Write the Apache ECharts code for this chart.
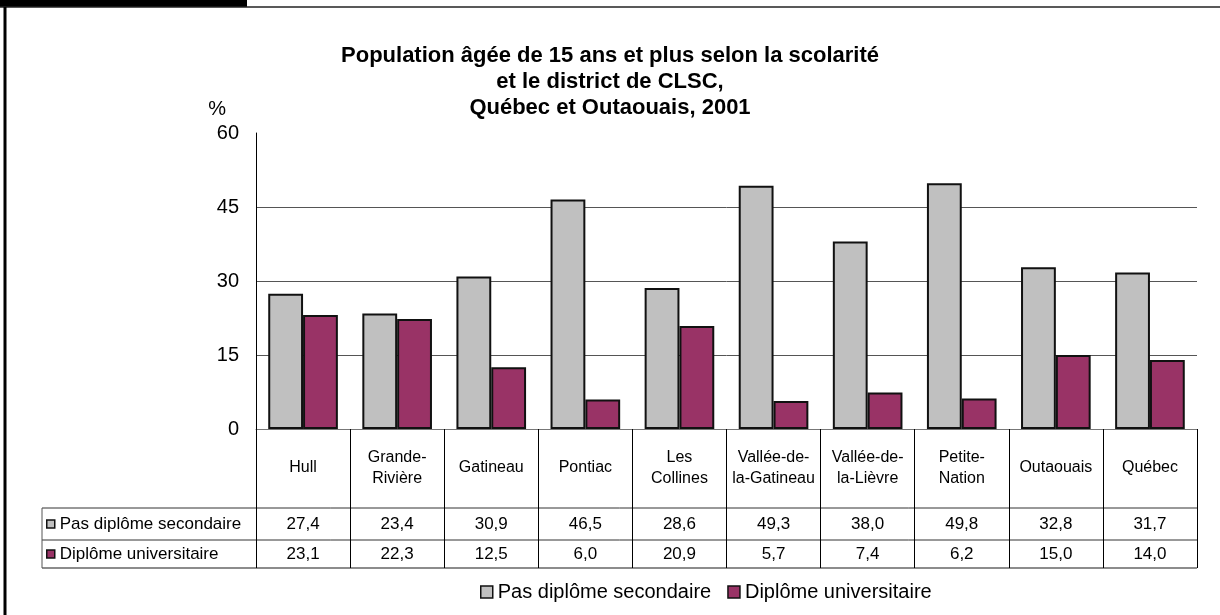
<!DOCTYPE html>
<html>
<head>
<meta charset="utf-8">
<script src="https://cdn.jsdelivr.net/npm/echarts@6/dist/echarts.min.js"></script>
<style>
  html, body { margin: 0; padding: 0; background: #fff; }
  #chart { width: 1220px; height: 615px; }
</style>
</head>
<body>
<div id="chart"></div>
<script>
// données
var categories = ['Hull', 'Grande-\nRivière', 'Gatineau', 'Pontiac', 'Les\nCollines',
                  'Vallée-de-\nla-Gatineau', 'Vallée-de-\nla-Lièvre', 'Petite-\nNation', 'Outaouais', 'Québec'];
var seriesNames = ['Pas diplôme secondaire', 'Diplôme universitaire'];
var pasDiplome = [27.4, 23.4, 30.9, 46.5, 28.6, 49.3, 38.0, 49.8, 32.8, 31.7];
var diplomeUniv = [23.1, 22.3, 12.5, 6.0, 20.9, 5.7, 7.4, 6.2, 15.0, 14.0];
var yTicks = [0, 15, 30, 45, 60];

var fmt = function (v) { return v.toFixed(1).replace('.', ','); };

var myChart = echarts.init(document.getElementById('chart'));

var font = 'Liberation Sans, Arial, sans-serif';
// lignes du tableau
var tLeft = 42, tRight = 1197;

option = {
    animation: false,
    backgroundColor: '#fff',
    textStyle: { fontFamily: font, color: '#000' },
    title: {
        text: 'Population âgée de 15 ans et plus selon la scolarité\net le district de CLSC,\nQuébec et Outaouais, 2001',
        left: 'center',
        top: 38,
        textStyle: { fontSize: 22, fontWeight: 'bold', lineHeight: 26, color: '#000', fontFamily: font }
    },
    legend: [
        {
            selectedMode: false,
            left: 480,
            top: 582,
            padding: 0,
            itemWidth: 12,
            itemHeight: 12,
            itemGap: 16,
            icon: 'rect',
            itemStyle: { borderWidth: 1.5 },
            textStyle: { fontSize: 20, color: '#000', fontFamily: font },
            data: seriesNames
        },
        {
            selectedMode: false,
            orient: 'vertical',
            left: 46,
            top: 514,
            padding: 0,
            itemWidth: 8,
            itemHeight: 8,
            itemGap: 10,
            icon: 'rect',
            itemStyle: { borderWidth: 1.5 },
            textStyle: { fontSize: 17, lineHeight: 20, color: '#000', fontFamily: font },
            data: seriesNames
        }
    ],
    grid: { left: 256, right: 23, top: 133, bottom: 186 },
    xAxis: [
        {
            type: 'category',
            data: categories,
            axisLine: { lineStyle: { color: '#777', width: 1 } },
            axisTick: { show: true, length: 139, lineStyle: { color: '#000' } },
            axisLabel: {
                interval: 0, margin: 39, verticalAlign: 'middle', fontSize: 16,
                lineHeight: 21, color: '#000', fontFamily: font, hideOverlap: false
            }
        },
        {
            type: 'category',
            data: pasDiplome.map(fmt),
            position: 'bottom',
            offset: 79,
            axisLine: { show: false },
            axisTick: { show: false },
            axisLabel: { interval: 0, margin: 16, verticalAlign: 'middle', fontSize: 17, color: '#000', fontFamily: font }
        },
        {
            type: 'category',
            data: diplomeUniv.map(fmt),
            position: 'bottom',
            offset: 111,
            axisLine: { show: false },
            axisTick: { show: false },
            axisLabel: { interval: 0, margin: 14, verticalAlign: 'middle', fontSize: 17, color: '#000', fontFamily: font }
        }
    ],
    yAxis: [
        {
            type: 'value',
            min: yTicks[0],
            max: yTicks[yTicks.length - 1],
            interval: 15,
            name: '%',
            nameLocation: 'end',
            nameGap: 14,
            nameTextStyle: { fontSize: 20, color: '#000', align: 'right', padding: [0, 30, 0, 0], fontFamily: font },
            axisLine: { show: true, lineStyle: { color: '#000', width: 1 } },
            axisTick: { show: false },
            axisLabel: { fontSize: 20, margin: 17, color: '#000', fontFamily: font },
            splitLine: { show: true, showMaxLine: false, lineStyle: { color: '#555', width: 1 } }
        }
    ],
    series: [
        {
            name: seriesNames[0],
            type: 'bar',
            barGap: '0%',
            barCategoryGap: '26%',
            itemStyle: { color: '#C0C0C0', borderColor: '#111', borderWidth: 2 },
            data: pasDiplome
        },
        {
            name: seriesNames[1],
            type: 'bar',
            itemStyle: { color: '#993366', borderColor: '#111', borderWidth: 2 },
            data: diplomeUniv
        }
    ],
    graphic: [
        // cadre
        { type: 'rect', shape: { x: 0, y: 0, width: 247, height: 7 }, style: { fill: '#000' } },
        { type: 'line', shape: { x1: 0, y1: 7, x2: 1220, y2: 7 }, style: { stroke: '#222', lineWidth: 1.5 } },
        { type: 'rect', shape: { x: 3.5, y: 7, width: 3, height: 608 }, style: { fill: '#000' } },
        // tableau de données
        { type: 'line', shape: { x1: tLeft, y1: 508, x2: tRight, y2: 508 }, style: { stroke: '#333', lineWidth: 1 } },
        { type: 'line', shape: { x1: tLeft, y1: 540, x2: tRight, y2: 540 }, style: { stroke: '#333', lineWidth: 1 } },
        { type: 'line', shape: { x1: tLeft, y1: 568, x2: tRight, y2: 568 }, style: { stroke: '#666', lineWidth: 1.5 } },
        { type: 'line', shape: { x1: tLeft, y1: 508, x2: tLeft, y2: 568 }, style: { stroke: '#555', lineWidth: 1 } }
    ]
};

myChart.setOption(option);
</script>
</body>
</html>
